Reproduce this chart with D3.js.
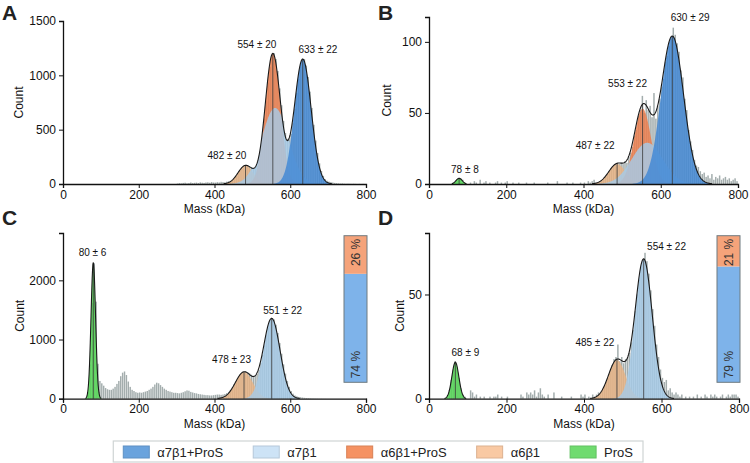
<!DOCTYPE html>
<html>
<head>
<meta charset="utf-8">
<script src="https://cdn.jsdelivr.net/npm/d3@7"></script>
<style>
body { margin: 0; background: #fff; }
text { font-family: "Liberation Sans", Arial, sans-serif; }
</style>
</head>
<body>
<svg id="fig" width="750" height="463"></svg>
<script>
// legend order
var kinds = ["α7β1+ProS", "α7β1", "α6β1+ProS", "α6β1", "ProS"];

// ---- panel A ----
var fitMassA = [482, 554, 633];
var fitSdA = [20, 20, 22];
var fitPeakA = [170, 1200, 1150];
var fitKindA = ["α6β1", "α6β1+ProS", "α7β1+ProS"];
var labelMassA = [433, 512, 673];
var labelCountA = [258, 1286, 1242];
var splitA = [560, 35, 700];   // unbound α7β1 share (mass, sd, peak)
var histStartA = 300;
var histA = [
  4, 8, 6, 10, 12, 6, 9, 14, 8, 11,
  13, 9, 15, 12, 10, 14, 16, 12, 18, 14,
  13, 17, 15, 20, 18, 16, 22, 25, 28, 36,
  52, 70, 96, 120, 140, 158, 168, 174, 166, 155,
  146, 150, 168, 225, 318, 440, 600, 760, 935, 1080,
  1170, 1205, 1150, 1040, 880, 725, 580, 470, 415, 410,
  462, 560, 692, 838, 965, 1075, 1135, 1150, 1090, 985,
  850, 700, 545, 400, 285, 190, 120, 75, 45, 30,
  22, 18, 14, 10, 8, 6, 4, 5, 3, 2,
  3, 2, 1, 2, 1, 0, 1, 0, 1, 0
];

// ---- panel B ----
var fitMassB = [78, 487, 553, 630];
var fitSdB = [8, 22, 22, 29];
var fitPeakB = [4, 14, 53, 104];
var fitKindB = ["ProS", "α6β1", "α6β1+ProS", "α7β1+ProS"];
var labelMassB = [93, 430, 514, 676];
var labelCountB = [10.5, 26.8, 70.9, 117.5];
var splitB = [565, 40, 29];
var histStartB = 0;
var histB = [
  0, 0, 0, 0, 0, 0, 0, 0, 0, 0,
  0, 0, 1, 2, 3, 4, 4, 3, 1, 0,
  0, 1, 0, 2, 1, 0, 3, 0, 1, 2,
  0, 1, 0, 0, 1, 2, 0, 1, 0, 1,
  2, 0, 0, 1, 0, 0, 1, 0, 0, 0,
  1, 0, 0, 0, 1, 0, 0, 0, 0, 0,
  0, 1, 0, 0, 0, 0, 2, 0, 0, 0,
  0, 1, 0, 0, 1, 0, 0, 0, 1, 0,
  1, 0, 2, 1, 2, 3, 1, 1, 2, 2,
  3, 5, 7, 9, 11, 12, 14, 15, 14, 15,
  14, 16, 15, 19, 22, 26, 34, 38, 48, 52,
  62, 50, 59, 52, 55, 47, 64, 46, 55, 60,
  68, 74, 86, 90, 97, 102, 110, 105, 99, 93,
  80, 75, 60, 52, 38, 30, 24, 17, 13, 12,
  9, 7, 8, 5, 6, 4, 7, 3, 5, 4,
  6, 3, 4, 5, 3, 4, 2, 3, 4, 2
];

// ---- panel C ----
var fitMassC = [80, 478, 551];
var fitSdC = [6, 23, 22];
var fitPeakC = [2300, 450, 1355];
var fitKindC = ["ProS", "α6β1", "α7β1"];
var labelMassC = [78, 445, 580];
var labelCountC = [2475, 656, 1486];
var shareC = [74, 26];   // α7β1, α6β1 (%)
var histStartC = 50;
var histC = [
  0, 2, 12, 105, 580, 1620, 2290, 1640, 590, 300,
  260, 220, 180, 160, 150, 150, 170, 200, 250, 300,
  380, 440, 460, 400, 290, 200, 150, 130, 110, 100,
  105, 100, 110, 120, 130, 150, 170, 200, 240, 270,
  260, 230, 200, 170, 150, 130, 120, 110, 100, 100,
  95, 90, 100, 110, 125, 140, 135, 115, 105, 95,
  90, 80, 75, 70, 65, 60, 60, 55, 55, 60,
  65, 70, 70, 65, 70, 80, 95, 115, 150, 190,
  240, 290, 345, 395, 430, 455, 460, 450, 430, 405,
  390, 395, 420, 490, 600, 740, 900, 1070, 1210, 1320,
  1360, 1340, 1250, 1110, 940, 760, 580, 425, 300, 200,
  130, 85, 55, 40, 30, 25, 20, 15, 12, 10,
  8, 6, 5, 4, 3, 2, 2, 1, 1, 0
];

// ---- panel D ----
var fitMassD = [68, 485, 554];
var fitSdD = [9, 22, 22];
var fitPeakD = [17.5, 18.5, 67];
var fitKindD = ["ProS", "α6β1", "α7β1"];
var labelMassD = [94, 428, 613];
var labelCountD = [22, 27, 73.2];
var shareD = [79, 21];
var histStartD = 0;
var histD = [
  0, 0, 0, 0, 0, 0, 0, 0, 0, 1,
  4, 9, 14, 18, 15, 10, 5, 2, 1, 0,
  0, 4, 3, 1, 2, 0, 1, 0, 1, 0,
  0, 1, 0, 1, 1, 2, 0, 1, 0, 0,
  1, 0, 0, 0, 0, 0, 0, 2, 1, 0,
  3, 2, 3, 2, 4, 1, 3, 5, 2, 1,
  0, 2, 0, 0, 3, 0, 0, 0, 1, 0,
  0, 0, 0, 1, 0, 0, 0, 0, 2, 1,
  2, 0, 1, 0, 2, 1, 2, 3, 3, 4,
  6, 8, 10, 13, 16, 19, 20, 26, 18, 20,
  17, 19, 20, 22, 27, 33, 42, 50, 57, 63,
  66, 70, 66, 60, 52, 43, 35, 26, 20, 14,
  10, 8, 9, 4, 5, 3, 2, 3, 2, 1,
  2, 0, 1, 0, 1, 0, 1, 0, 2, 0,
  1, 0, 2, 1, 0, 2, 1, 2, 1, 0,
  1, 2, 0, 1, 2, 1, 2, 2, 2, 1
];

var binWidth = 5;

// ---- styles ----
var fillColor = {
  "α7β1+ProS": "#3f86d4", "α7β1": "#a6cbe8", "α6β1+ProS": "#ee7c4a",
  "α6β1": "#e8b283", "ProS": "#52d852"
};
var legendColor = {
  "α7β1+ProS": "#6aa3dd", "α7β1": "#cde3f6", "α6β1+ProS": "#f59262",
  "α6β1": "#f9c9a3", "ProS": "#6fdb6f"
};
var drawOrder = ["α6β1", "α6β1+ProS", "α7β1", "α7β1+ProS", "ProS"];

var svg = d3.select("#fig");

var panels = [
  {id: "A", left: 63, right: 366, top: 21, bottom: 184, yMax: 1500, yTicks: [0, 500, 1000, 1500], countX: 19,
   mass: fitMassA, sd: fitSdA, peak: fitPeakA, kind: fitKindA, lm: labelMassA, lc: labelCountA,
   split: splitA, hist: histA, hs: histStartA, share: null},
  {id: "B", left: 429, right: 738, top: 17, bottom: 184, yMax: 117.5, yTicks: [0, 50, 100], countX: 387,
   mass: fitMassB, sd: fitSdB, peak: fitPeakB, kind: fitKindB, lm: labelMassB, lc: labelCountB,
   split: splitB, hist: histB, hs: histStartB, share: null},
  {id: "C", left: 63, right: 366, top: 233, bottom: 398.7, yMax: 2800, yTicks: [0, 1000, 2000], countX: 20,
   mass: fitMassC, sd: fitSdC, peak: fitPeakC, kind: fitKindC, lm: labelMassC, lc: labelCountC,
   split: null, hist: histC, hs: histStartC, share: shareC},
  {id: "D", left: 429, right: 739, top: 233, bottom: 398.7, yMax: 79.5, yTicks: [0, 50], countX: 400,
   mass: fitMassD, sd: fitSdD, peak: fitPeakD, kind: fitKindD, lm: labelMassD, lc: labelCountD,
   split: null, hist: histD, hs: histStartD, share: shareD}
];

function gauss(m, s, a) {
  return function (v) { return a * Math.exp(-(v - m) * (v - m) / (2 * s * s)); };
}

var masses = d3.range(0, 800.01, 1);

panels.forEach(function (p) {
  var x = d3.scaleLinear().domain([0, 800]).range([p.left, p.right]);
  var y = d3.scaleLinear().domain([0, p.yMax]).range([p.bottom, p.top]);
  var g = svg.append("g");

  // histogram
  g.append("g").selectAll("rect")
    .data(p.hist)
    .enter().append("rect")
    .attr("x", function (d, i) { return x(p.hs + i * binWidth) + 0.2; })
    .attr("width", function (d, i) { return x(p.hs + (i + 1) * binWidth) - x(p.hs + i * binWidth) - 0.45; })
    .attr("y", function (d) { return y(Math.min(d, p.yMax)); })
    .attr("height", function (d) { return y(0) - y(Math.min(d, p.yMax)); })
    .attr("fill", "#a3adad");

  var fs = p.mass.map(function (m, i) { return gauss(m, p.sd[i], p.peak[i]); });
  var sum = function (v) { return d3.sum(fs, function (f) { return f(v); }); };
  var eps = p.yMax * 0.0015;

  var area = d3.area()
    .defined(function (d) { return d[1] > eps; })
    .x(function (d) { return x(d[0]); })
    .y0(y(0))
    .y1(function (d) { return y(d[1]); });

  var layers = p.kind.map(function (k, i) { return {kind: k, f: fs[i]}; });
  if (p.split) {
    var sp = gauss(p.split[0], p.split[1], p.split[2]);
    layers.push({kind: "α7β1", f: function (v) { return Math.min(sp(v), sum(v)); }});
  }
  layers.sort(function (a, b) { return drawOrder.indexOf(a.kind) - drawOrder.indexOf(b.kind); });

  layers.forEach(function (l) {
    g.append("path")
      .datum(masses.map(function (v) { return [v, l.f(v)]; }))
      .attr("d", area)
      .attr("fill", fillColor[l.kind])
      .attr("fill-opacity", 0.82);
  });

  // mean lines
  p.mass.forEach(function (m) {
    g.append("line")
      .attr("x1", x(m)).attr("x2", x(m))
      .attr("y1", y(0)).attr("y2", y(sum(m)))
      .attr("stroke", "#3a3a3a").attr("stroke-width", 0.8);
  });

  // total fit
  g.append("path")
    .datum(masses.map(function (v) { return [v, sum(v)]; }))
    .attr("d", d3.line()
      .defined(function (d) { return d[1] > eps; })
      .x(function (d) { return x(d[0]); })
      .y(function (d) { return y(d[1]); }))
    .attr("fill", "none")
    .attr("stroke", "#1a1a1a")
    .attr("stroke-width", 1.1);

  // peak labels
  p.lm.forEach(function (m, i) {
    g.append("text")
      .attr("x", x(m)).attr("y", y(p.lc[i]))
      .attr("dy", "0.35em")
      .attr("text-anchor", "middle")
      .attr("font-size", 10)
      .attr("fill", "#111")
      .text(p.mass[i] + " ± " + p.sd[i]);
  });

  // share bar
  if (p.share) {
    var bx0 = p.right - 22, bx1 = p.right + 1;
    var sy = d3.scaleLinear().domain([0, 100]).range([382.3, 235.7]);
    var segs = [[0, p.share[0], "#7eb3ea"], [p.share[0], 100, "#f5a37a"]];
    segs.forEach(function (s) {
      g.append("rect")
        .attr("x", bx0).attr("width", bx1 - bx0)
        .attr("y", sy(s[1])).attr("height", sy(s[0]) - sy(s[1]))
        .attr("fill", s[2]);
    });
    g.append("rect")
      .attr("x", bx0).attr("width", bx1 - bx0)
      .attr("y", sy(100)).attr("height", sy(0) - sy(100))
      .attr("fill", "none").attr("stroke", "#6f7a80").attr("stroke-width", 1);
    var cx = (bx0 + bx1) / 2 + 4;
    g.append("text")
      .attr("transform", "translate(" + cx + "," + (sy(100) + 3) + ") rotate(-90)")
      .attr("text-anchor", "end").attr("font-size", 12).attr("fill", "#333")
      .text(p.share[1] + " %");
    g.append("text")
      .attr("transform", "translate(" + cx + "," + (sy(0) - 4) + ") rotate(-90)")
      .attr("text-anchor", "start").attr("font-size", 12).attr("fill", "#333")
      .text(p.share[0] + " %");
  }

  // axes
  var ax = g.append("g")
    .attr("transform", "translate(0," + p.bottom + ")")
    .call(d3.axisBottom(x).tickValues([0, 200, 400, 600, 800]).tickFormat(d3.format("d"))
      .tickSizeOuter(0).tickSize(4).tickPadding(2));
  var ay = g.append("g")
    .attr("transform", "translate(" + p.left + ",0)")
    .call(d3.axisLeft(y).tickValues(p.yTicks).tickFormat(d3.format("d"))
      .tickSizeOuter(0).tickSize(4).tickPadding(3));
  [ax, ay].forEach(function (a) {
    a.attr("font-family", null).attr("font-size", null);
    a.select(".domain").attr("stroke", "#111").attr("stroke-width", 1.3);
    a.selectAll(".tick line").attr("stroke", "#111");
    a.selectAll(".tick text").attr("font-size", 12).attr("fill", "#111");
  });

  g.append("text")
    .attr("x", (p.left + p.right) / 2).attr("y", p.bottom + 29)
    .attr("text-anchor", "middle").attr("font-size", 12).attr("fill", "#111")
    .text("Mass (kDa)");
  g.append("text")
    .attr("transform", "translate(" + p.countX + "," + ((p.top + p.bottom) / 2) + ") rotate(-90)")
    .attr("dy", "0.35em")
    .attr("text-anchor", "middle").attr("font-size", 12).attr("fill", "#111")
    .text("Count");

  // panel letter
  svg.append("text")
    .attr("x", p.left < 100 ? 2 : 378)
    .attr("y", p.top < 100 ? 20 : 225)
    .attr("font-size", 21).attr("font-weight", "bold").attr("fill", "#222")
    .text(p.id);
});

// ---- legend ----
var leg = svg.append("g");
var cursor = 0;
kinds.forEach(function (k, i) {
  leg.append("rect")
    .attr("x", cursor).attr("y", -6).attr("width", 26).attr("height", 12)
    .attr("fill", legendColor[k])
    .attr("stroke", d3.color(legendColor[k]).darker(0.35));
  var t = leg.append("text")
    .attr("x", cursor + 34).attr("y", 0).attr("dy", "0.35em")
    .attr("font-size", 13).attr("fill", "#222")
    .text(k);
  cursor += 34 + t.node().getComputedTextLength() + (i < kinds.length - 1 ? 30 : 0);
});
var legRight = 633, legY = 452;
var legLeft = legRight - cursor;
leg.attr("transform", "translate(" + legLeft + "," + legY + ")");
svg.insert("rect", "g")
  .attr("x", legLeft - 10).attr("y", legY - 11)
  .attr("width", cursor + 20).attr("height", 21)
  .attr("fill", "#fff").attr("stroke", "#cfd4d4").attr("stroke-width", 1.2);
</script>
</body>
</html>
